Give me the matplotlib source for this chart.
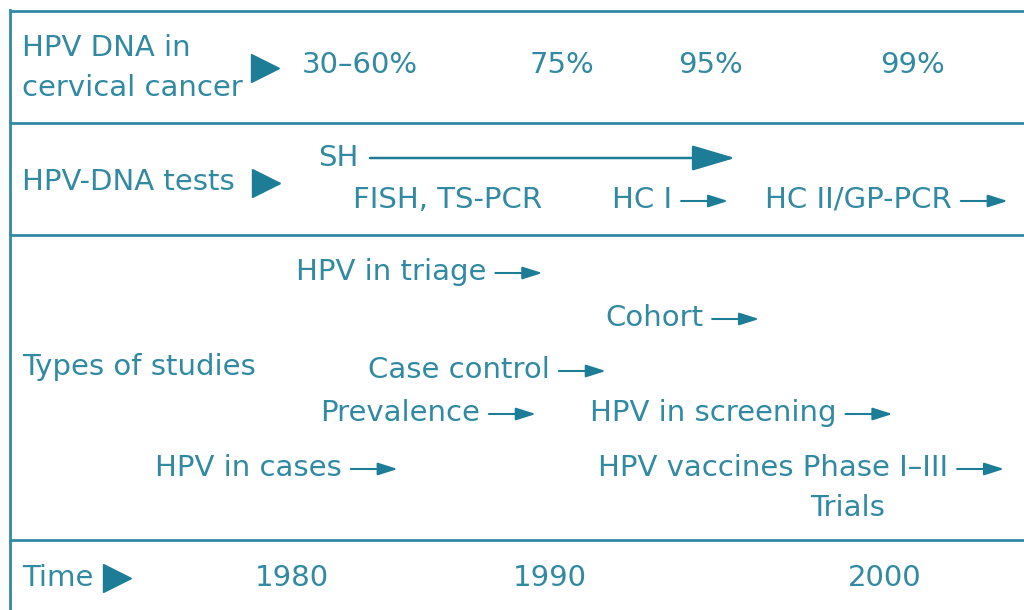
import matplotlib
matplotlib.use('Agg')
import matplotlib.pyplot as plt

TEAL = '#3189a2'
DARK = '#1e7d96'

# row headers
row_labels = ['HPV DNA in\ncervical cancer', 'HPV-DNA tests', 'Types of studies', 'Time']
# proportion of cervical cancers with HPV DNA found
pct_labels = ['30\u201360%', '75%', '95%', '99%']
pct_x = [360, 562, 710, 912]
# time axis
years = ['1980', '1990', '2000']
year_x = [292, 550, 885]
# tests
test_labels = ['FISH, TS-PCR', 'HC I', 'HC II/GP-PCR']
test_x = [448, 612, 765]
test_arrow = [False, True, True]
# study types
study_labels = ['HPV in triage', 'Cohort', 'Case control', 'Prevalence',
                'HPV in screening', 'HPV in cases', 'HPV vaccines Phase I\u2013III']
study_x = [296, 605, 368, 320, 590, 155, 598]
study_y = [272, 318, 370, 413, 413, 468, 468]

plt.rcParams['font.family'] = ['DejaVu Sans']
fig = plt.figure(figsize=(10.24, 6.10), dpi=100)
ax = fig.add_axes([0, 0, 1, 1])
ax.set_xlim(0, 1024)
ax.set_ylim(610, 0)
ax.axis('off')

fs = 21

# frame
for y in [11, 123, 235, 540]:
    ax.plot([10, 1024], [y, y], color=TEAL, lw=2, solid_capstyle='butt')
ax.plot([10, 10], [10, 610], color=TEAL, lw=2)

def txt(x, y, s, ha='left', **kw):
    return ax.text(x, y, s, ha=ha, va='center', color=TEAL, fontsize=fs, **kw)

def small_arrow(t, gap=9, length=47):
    fig.canvas.draw()
    bb = t.get_window_extent().transformed(ax.transData.inverted())
    x0 = max(bb.x0, bb.x1) + gap
    y = t.get_position()[1] + 1
    ax.annotate('', xy=(x0 + length, y), xytext=(x0, y),
                arrowprops=dict(arrowstyle='-|>,head_length=1.2,head_width=0.38',
                                color=DARK, lw=1.5, shrinkA=0, shrinkB=0))

# row headers
txt(22, 68, row_labels[0], linespacing=1.55)
txt(22, 182, row_labels[1])
txt(22, 367, row_labels[2])
txt(22, 578, row_labels[3])
ax.plot([265, 266, 117], [68, 183, 578], linestyle='none', marker='>', ms=20, color=DARK)

for s, x in zip(pct_labels, pct_x):
    txt(x, 65, s, ha='center')

# tests
txt(318, 158, 'SH')
ax.annotate('', xy=(735, 158), xytext=(370, 158),
            arrowprops=dict(arrowstyle='-|>,head_length=2.7,head_width=0.8',
                            color=DARK, lw=1.8, shrinkA=0, shrinkB=0))
for s, x, a in zip(test_labels, test_x, test_arrow):
    if a:
        t = txt(x, 200, s)
        small_arrow(t)
    else:
        txt(x, 200, s, ha='center')

# studies
for s, x, y in zip(study_labels, study_x, study_y):
    t = txt(x, y, s)
    small_arrow(t)
txt(848, 508, 'Trials', ha='center')

for s, x in zip(years, year_x):
    txt(x, 578, s, ha='center')

fig.savefig('out.png', dpi=100)
